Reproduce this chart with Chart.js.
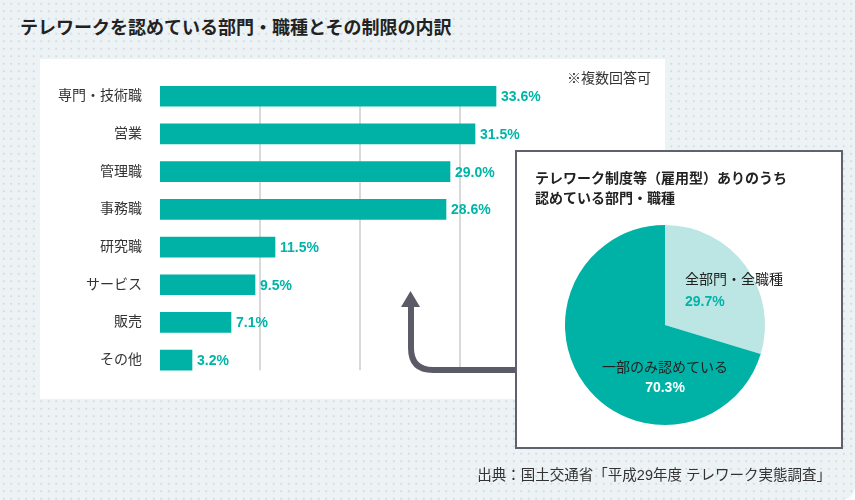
<!DOCTYPE html>
<html lang="ja">
<head>
<meta charset="utf-8">
<script src="https://cdn.jsdelivr.net/npm/chart.js@4.4.1/dist/chart.umd.min.js"></script>
<style>
  html, body { margin: 0; padding: 0; background: #fff; }
  body { width: 855px; height: 500px; overflow: hidden; font-family: "Liberation Sans", "Noto Sans CJK JP", sans-serif; color: #222; }
  #frame {
    position: relative; width: 855px; height: 500px;
    background-color: #edf2f5;
    background-image: radial-gradient(circle, #d0dde3 1.1px, transparent 1.4px);
    background-size: 7.5px 7.5px;
    border-bottom-right-radius: 14px;
  }
  #title { position: absolute; left: 20px; top: 16px; font-size: 18px; font-weight: bold; line-height: 24px; white-space: nowrap; }
  #panel { position: absolute; left: 40px; top: 59px; width: 625px; height: 340px; background: #fff; }
  #note { position: absolute; left: 567px; top: 70px; font-size: 14px; line-height: 16px; white-space: nowrap; color: #333; }
  #arrow { position: absolute; left: 0; top: 0; }
  #pieBox { position: absolute; left: 515px; top: 150px; width: 324px; height: 295px; border: 2px solid #5f626d; background: #fff; }
  #pieTitle { position: absolute; left: 535px; top: 168px; font-size: 14px; font-weight: bold; line-height: 20px; white-space: nowrap; }
  #pieWrap { position: absolute; left: 535px; top: 215px; width: 260px; height: 220px; }
  #source { position: absolute; right: 24px; top: 465px; font-size: 14.5px; line-height: 20px; white-space: nowrap; color: #333; }
</style>
</head>
<body>
<div id="frame">
  <div id="title">テレワークを認めている部門・職種とその制限の内訳</div>
  <div id="panel"><canvas id="barChart"></canvas></div>
  <div id="note">※複数回答可</div>
  <svg id="arrow" width="855" height="500">
    <path d="M516 370 H433 Q411 370 411 348 V305" fill="none" stroke="#5a5b66" stroke-width="6"/>
    <polygon points="401,307 420,307 410.5,291" fill="#5a5b66"/>
  </svg>
  <div id="pieBox"></div>
  <div id="pieTitle">テレワーク制度等（雇用型）ありのうち<br>認めている部門・職種</div>
  <div id="pieWrap"><canvas id="pieChart"></canvas></div>
  <div id="source">出典：国土交通省「平成29年度 テレワーク実態調査」</div>
</div>
<script>
const categories = ['専門・技術職', '営業', '管理職', '事務職', '研究職', 'サービス', '販売', 'その他'];
const shares = [33.6, 31.5, 29.0, 28.6, 11.5, 9.5, 7.1, 3.2];
const gridValues = [10, 20, 30];

const pieLabels = ['全部門・全職種', '一部のみ認めている'];
const pieValues = [29.7, 70.3];

const TEAL = '#00b2a6';
const LIGHT = '#bbe6e4';
const FONT = '"Liberation Sans", "Noto Sans CJK JP", sans-serif';

Chart.defaults.font.family = FONT;
Chart.defaults.animation = false;

// gridlines only between the top of the first bar and the bottom of the last one
const partialGrid = {
  id: 'partialGrid',
  beforeDatasetsDraw(chart) {
    const { ctx, scales: { x } } = chart;
    const bars = chart.getDatasetMeta(0).data;
    const first = bars[0], last = bars[bars.length - 1];
    const top = first.y - first.height / 2;
    const bottom = last.y + last.height / 2;
    ctx.save();
    ctx.strokeStyle = '#d9d9d9';
    ctx.lineWidth = 2;
    gridValues.forEach(v => {
      const px = Math.round(x.getPixelForValue(v));
      ctx.beginPath();
      ctx.moveTo(px, top);
      ctx.lineTo(px, bottom);
      ctx.stroke();
    });
    ctx.restore();
  }
};

const barValueLabels = {
  id: 'barValueLabels',
  afterDatasetsDraw(chart) {
    const { ctx } = chart;
    const ds = chart.data.datasets[0];
    ctx.save();
    ctx.font = 'bold 14px ' + FONT;
    ctx.fillStyle = '#00b4a8';
    ctx.textAlign = 'left';
    ctx.textBaseline = 'middle';
    chart.getDatasetMeta(0).data.forEach((bar, i) => {
      ctx.fillText(ds.data[i].toFixed(1) + '%', bar.x + 5, bar.y + 1);
    });
    ctx.restore();
  }
};

new Chart(document.getElementById('barChart'), {
  type: 'bar',
  data: {
    labels: categories,
    datasets: [{
      data: shares,
      backgroundColor: TEAL,
      barThickness: 20
    }]
  },
  options: {
    indexAxis: 'y',
    responsive: true,
    maintainAspectRatio: false,
    layout: { padding: { top: 17, bottom: 20, left: 0, right: 5 } },
    plugins: { legend: { display: false }, tooltip: { enabled: false } },
    scales: {
      x: { display: false, min: 0, max: 50 },
      y: {
        grid: { display: false },
        border: { display: false },
        ticks: { color: '#333', font: { size: 14 }, padding: 10 },
        afterFit(scale) { scale.width = 120; }
      }
    }
  },
  plugins: [partialGrid, barValueLabels]
});

const pieText = {
  id: 'pieText',
  afterDatasetsDraw(chart) {
    const { ctx } = chart;
    const arc = chart.getDatasetMeta(0).data[0];
    const cx = arc.x, cy = arc.y;
    const vals = chart.data.datasets[0].data;
    ctx.save();
    ctx.textBaseline = 'middle';
    ctx.textAlign = 'left';
    ctx.font = '14px ' + FONT;
    ctx.fillStyle = '#222';
    ctx.fillText(pieLabels[0], cx + 20, cy - 45);
    ctx.font = 'bold 14px ' + FONT;
    ctx.fillStyle = '#00b4a8';
    ctx.fillText(vals[0].toFixed(1) + '%', cx + 20, cy - 23);
    ctx.textAlign = 'center';
    ctx.font = '14px ' + FONT;
    ctx.fillStyle = '#222';
    ctx.fillText(pieLabels[1], cx, cy + 43);
    ctx.font = 'bold 14px ' + FONT;
    ctx.fillStyle = '#fff';
    ctx.fillText(vals[1].toFixed(1) + '%', cx, cy + 63);
    ctx.restore();
  }
};

new Chart(document.getElementById('pieChart'), {
  type: 'pie',
  data: {
    labels: pieLabels,
    datasets: [{
      data: pieValues,
      backgroundColor: [LIGHT, TEAL],
      borderWidth: 0
    }]
  },
  options: {
    responsive: true,
    maintainAspectRatio: false,
    layout: { padding: 10 },
    plugins: { legend: { display: false }, tooltip: { enabled: false } }
  },
  plugins: [pieText]
});
</script>
</body>
</html>
